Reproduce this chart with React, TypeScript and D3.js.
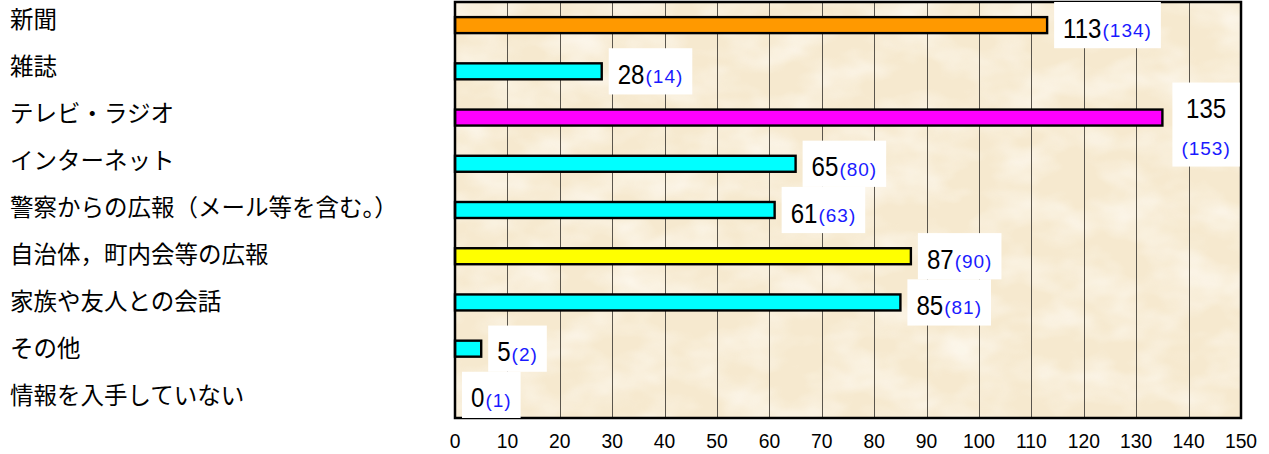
import React, { useEffect, useRef } from "react";
import * as d3 from "d3";

// 情報の入手先（件数、括弧内は前回調査）
const categories = [
  "新聞",
  "雑誌",
  "テレビ・ラジオ",
  "インターネット",
  "警察からの広報（メール等を含む。）",
  "自治体，町内会等の広報",
  "家族や友人との会話",
  "その他",
  "情報を入手していない",
];
const values = [113, 28, 135, 65, 61, 87, 85, 5, 0];
const previousValues = [134, 14, 153, 80, 63, 90, 81, 2, 1];
const barColors = [
  "#ff9900",
  "#00ffff",
  "#ff00ff",
  "#00ffff",
  "#00ffff",
  "#ffff00",
  "#00ffff",
  "#00ffff",
  "#00ffff",
];
const xTicks = d3.range(0, 151, 10);

const W = 1269;
const H = 454;
const plot = { left: 455, right: 1241, top: 2, bottom: 418 };

const valueFont = "28px 'Liberation Sans', Arial, sans-serif";
const valueScaleX = 0.86;
const prevFont = "19px 'Liberation Sans', Arial, sans-serif";
const prevLs = 1.0;

export default function App() {
  const ref = useRef<SVGSVGElement | null>(null);

  useEffect(() => {
    const svg = d3.select(ref.current);
    svg.selectAll("*").remove();

    const x = d3.scaleLinear().domain([0, 150]).range([plot.left, plot.right]);
    const y = d3
      .scaleBand<string>()
      .domain(categories)
      .range([plot.top, plot.bottom])
      .paddingInner(0)
      .paddingOuter(0);
    const labelY = d3.scalePoint<string>().domain(categories).range([19.5, 395]);

    const defs = svg.append("defs");
    const filt = defs
      .append("filter")
      .attr("id", "paper")
      .attr("x", 0)
      .attr("y", 0)
      .attr("width", 1)
      .attr("height", 1);
    filt
      .append("feTurbulence")
      .attr("type", "fractalNoise")
      .attr("baseFrequency", "0.018 0.03")
      .attr("numOctaves", 3)
      .attr("seed", 7)
      .attr("result", "noise");
    filt
      .append("feColorMatrix")
      .attr("in", "noise")
      .attr("type", "matrix")
      .attr("values", "0 0 0 0 1  0 0 0 0 0.98  0 0 0 0 0.94  2.0 0 0 0 -0.75")
      .attr("result", "tint");
    filt
      .append("feComposite")
      .attr("in", "tint")
      .attr("in2", "SourceGraphic")
      .attr("operator", "in");

    // page background
    svg.append("rect").attr("width", W).attr("height", H).attr("fill", "#ffffff");

    // plot area with paper texture
    svg
      .append("rect")
      .attr("x", plot.left)
      .attr("y", plot.top)
      .attr("width", plot.right - plot.left)
      .attr("height", plot.bottom - plot.top)
      .attr("fill", "#f6e9cf");
    svg
      .append("rect")
      .attr("x", plot.left)
      .attr("y", plot.top)
      .attr("width", plot.right - plot.left)
      .attr("height", plot.bottom - plot.top)
      .attr("fill", "#ffffff")
      .attr("filter", "url(#paper)")
      .attr("opacity", 0.65);

    // vertical grid lines
    svg
      .append("g")
      .selectAll("line")
      .data(xTicks.filter((t) => t > 0 && t < 150))
      .join("line")
      .attr("x1", (d) => Math.round(x(d)) + 0.5)
      .attr("x2", (d) => Math.round(x(d)) + 0.5)
      .attr("y1", plot.top)
      .attr("y2", plot.bottom)
      .attr("stroke", "#5a554c")
      .attr("stroke-width", 1);

    // bars
    const barH = 16;
    svg
      .append("g")
      .selectAll("rect")
      .data(categories)
      .join("rect")
      .attr("x", x(0))
      .attr("y", (d) => y(d)! + y.bandwidth() / 2 - barH / 2)
      .attr("width", (_, i) => Math.max(0, x(values[i]) - x(0)))
      .attr("height", barH)
      .attr("fill", (_, i) => barColors[i])
      .attr("stroke", "#000")
      .attr("stroke-width", (_, i) => (values[i] > 0 ? 2.4 : 0));

    // plot frame
    svg
      .append("rect")
      .attr("x", plot.left)
      .attr("y", plot.top)
      .attr("width", plot.right - plot.left)
      .attr("height", plot.bottom - plot.top)
      .attr("fill", "none")
      .attr("stroke", "#000")
      .attr("stroke-width", 2.5);

    // value labels on white boxes
    const ctx = document.createElement("canvas").getContext("2d")!;
    const measure = (s: string, f: string, ls = 0) => {
      ctx.font = f;
      return ctx.measureText(s).width + ls * s.length;
    };
    const pad = 9;
    const gap = 7;

    const drawValue = (
      g: d3.Selection<SVGGElement, unknown, null, undefined>,
      tx: number,
      ty: number,
      s: string
    ) => {
      g.append("text")
        .attr("transform", `translate(${tx},${ty}) scale(${valueScaleX},1)`)
        .style("font", valueFont)
        .attr("fill", "#000")
        .text(s);
    };

    categories.forEach((c, i) => {
      const v = String(values[i]);
      const p = `(${previousValues[i]})`;
      const vw = measure(v, valueFont) * valueScaleX;
      const pw = measure(p, prevFont, prevLs);
      const cy = y(c)! + y.bandwidth() / 2;
      const bx = x(values[i]) + gap;
      const g = svg.append("g");
      const oneLineW = vw + 1 + pw + pad * 2;

      if (bx + oneLineW > plot.right) {
        // stacked label: value above, previous value below
        const bw = Math.max(vw, pw) + pad * 2;
        const bx2 = bx + 3;
        g.append("rect")
          .attr("x", bx2)
          .attr("y", cy - 35)
          .attr("width", bw)
          .attr("height", 84)
          .attr("fill", "#fff");
        drawValue(g, bx2 + bw / 2 - vw / 2, cy, v);
        g.append("text")
          .attr("x", bx2 + bw / 2 - pw / 2)
          .attr("y", cy + 37)
          .style("font", prevFont)
          .style("letter-spacing", `${prevLs}px`)
          .attr("fill", "#1a1aff")
          .text(p);
      } else {
        g.append("rect")
          .attr("x", bx)
          .attr("y", y(c)!)
          .attr("width", oneLineW)
          .attr("height", y.bandwidth())
          .attr("fill", "#fff");
        drawValue(g, bx + pad, cy + 12.5, v);
        g.append("text")
          .attr("x", bx + pad + vw + 1)
          .attr("y", cy + 12)
          .style("font", prevFont)
          .style("letter-spacing", `${prevLs}px`)
          .attr("fill", "#1a1aff")
          .text(p);
      }
    });

    // category labels
    svg
      .append("g")
      .selectAll("text")
      .data(categories)
      .join("text")
      .attr("x", 10)
      .attr("y", (d) => labelY(d)! + 8.5)
      .style("font", "23.5px 'Noto Sans CJK JP', sans-serif")
      .attr("fill", "#000")
      .text((d) => d);

    // x tick labels
    svg
      .append("g")
      .selectAll("text")
      .data(xTicks)
      .join("text")
      .attr("transform", (d) => `translate(${x(d)},448) scale(0.92,1)`)
      .attr("text-anchor", "middle")
      .style("font", "21px 'Liberation Sans', Arial, sans-serif")
      .attr("fill", "#000")
      .text((d) => String(d));
  }, []);

  return (
    <svg
      ref={ref}
      width={W}
      height={H}
      style={{ position: "absolute", left: 0, top: 0, display: "block" }}
    />
  );
}
